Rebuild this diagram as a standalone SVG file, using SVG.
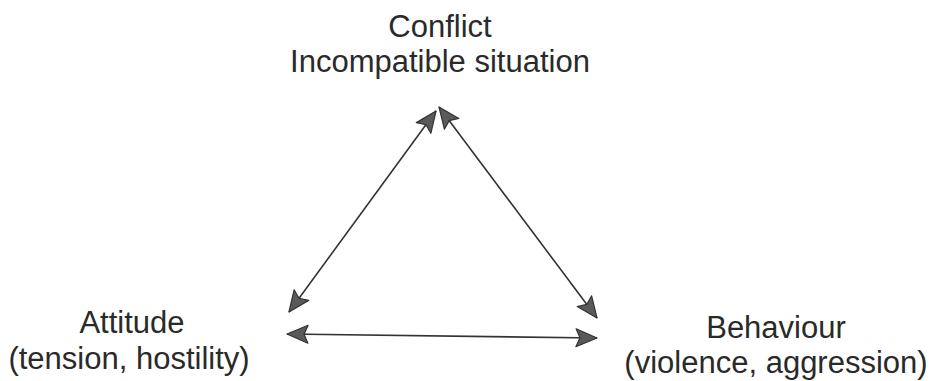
<svg xmlns="http://www.w3.org/2000/svg" width="936" height="381" viewBox="0 0 936 381">
<style>
  .lbl { font-family: "Liberation Sans", Arial, sans-serif; font-size: 31px; fill: #2a2a2a; text-anchor: middle; }
  .conn { stroke: #333; stroke-width: 1.6; fill: none; marker-start: url(#ah); marker-end: url(#ah); }
</style>
<defs>
  <marker id="ah" markerUnits="userSpaceOnUse" markerWidth="26" markerHeight="22" refX="22" refY="10" orient="auto-start-reverse" viewBox="0 0 26 22">
    <path d="M1,1 L22,10 L1,19 L5,10 z" fill="#5a5a5a" stroke="#333" stroke-width="1.2" stroke-linejoin="round"/>
  </marker>
</defs>
<rect width="936" height="381" fill="#fff"/>
<g id="conflict">
  <text class="lbl" x="440" y="37">Conflict</text>
  <text class="lbl" x="440" y="72">Incompatible situation</text>
</g>
<g id="attitude">
  <text class="lbl" x="132" y="333">Attitude</text>
  <text class="lbl" x="129" y="369">(tension, hostility)</text>
</g>
<g id="behaviour">
  <text class="lbl" x="776" y="338">Behaviour</text>
  <text class="lbl" x="776" y="373">(violence, aggression)</text>
</g>
<g id="connectors">
  <line class="conn" x1="436" y1="111" x2="289" y2="312"/>
  <line class="conn" x1="439" y1="107" x2="597" y2="318"/>
  <line class="conn" x1="287" y1="334" x2="597" y2="338"/>
</g>
</svg>
